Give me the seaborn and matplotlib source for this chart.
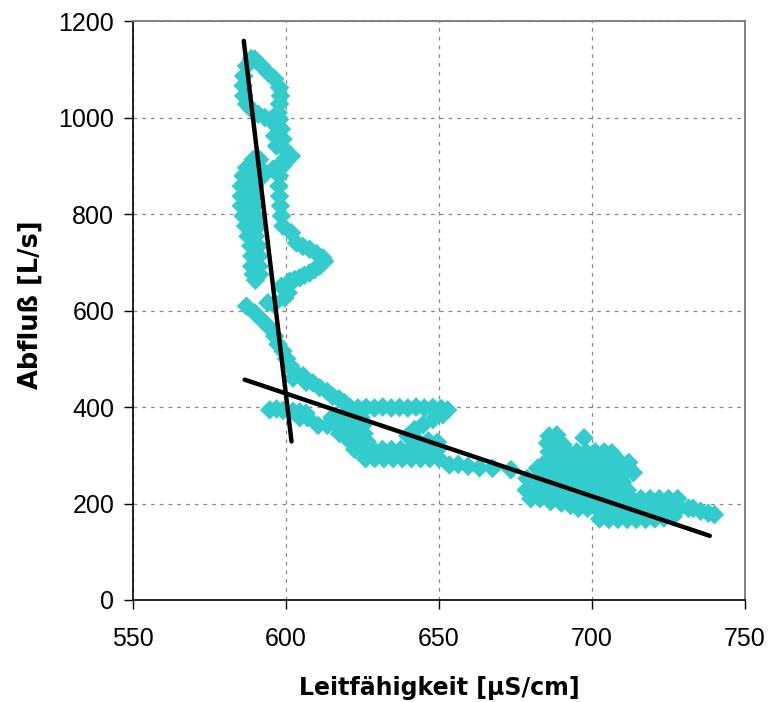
import matplotlib
matplotlib.use("Agg")
import matplotlib.pyplot as plt
import numpy as np
import pandas as pd
import seaborn as sns

# Leitfähigkeit [µS/cm] und Abfluß [L/s] einzelner Messzeitpunkte, abschnittsweise

# Scheitel: Schleife bei höchstem Abfluß
spitze_lf = [588.7, 587.1, 586.2, 586.0, 586.2, 587.1, 588.7, 590.9, 593.1, 595.2,
             589.8, 592.0, 594.1, 596.3, 597.9, 598.2, 597.9, 597.4]
spitze_q = [1122, 1107, 1086, 1066, 1045, 1028, 1017, 1007, 1000, 996,
            1121, 1107, 1093, 1080, 1062, 1045, 1028, 1010]

# Rechter Ast unterhalb des Scheitels
abstieg_lf = [597.9, 595.8, 598.5, 596.3, 599.0, 596.9, 599.6, 600.1, 601.8, 599.0,
              597.9, 597.7, 597.9, 598.2, 598.5, 599.0, 592.5, 595.8, 598.5]
abstieg_q = [996, 989, 976, 962, 955, 941, 934, 917, 920, 900,
             879, 858, 837, 817, 796, 775, 879, 893, 906]

# Linker Ast (zweiter Anstieg)
links_lf = [589.3, 591.4,
            587.1, 589.3, 591.4,
            586.0, 588.2, 590.3,
            585.4, 587.6, 589.8,
            585.4, 587.6, 589.8,
            585.4, 587.6, 589.8,
            586.0, 588.2, 590.3,
            586.8, 589.0, 591.0,
            587.6, 590.0,
            588.5, 591.0,
            588.8, 591.2,
            588.8, 591.2,
            589.3, 591.4,
            590.0]
links_q = [913, 913,
           896, 896, 896,
           879, 879, 879,
           858, 858, 858,
           837, 837, 837,
           817, 817, 817,
           796, 796, 796,
           775, 775, 775,
           754, 754,
           734, 734,
           713, 713,
           692, 692,
           675, 675,
           663]

# Schleife nach rechts (Zwischenmaximum der Leitfähigkeit)
schleife_lf = [601.8, 603.4, 605.5, 607.7, 610.0, 612.1, 612.6, 611.0, 609.4, 607.7,
               606.0, 604.5, 602.8, 601.2, 598.5, 600.7, 599.6, 594.1, 596.0]
schleife_q = [761, 740, 733, 727, 718, 709, 702, 692, 685, 678,
              673, 668, 664, 661, 650, 637, 626, 616, 613]

# Abfallender Ast bis ca. 400 L/s
abfall_lf = [587.1, 589.8, 592.5, 594.7, 596.3, 597.4, 599.0, 600.2, 601.5, 603.0,
             602.3, 605.6, 606.6, 608.8, 611.0, 613.5, 615.3, 617.3, 619.1]
abfall_q = [609, 595, 578, 564, 547, 530, 516, 500, 485, 472,
            460, 465, 451, 450, 440, 432, 422, 417, 409]

# Plateau bei ca. 400 L/s und Rückweg
plateau_lf = [620.8, 623.5, 626.2, 628.9, 631.6, 634.4, 637.1, 639.8, 642.5, 645.2,
              648.0, 650.7, 652.8,
              651.2, 648.0, 644.7, 642.0, 639.8, 643.0, 646.5, 649.5]
plateau_q = [400, 398, 399, 398, 400, 398, 399, 398, 400, 398,
             399, 397, 394,
             384, 374, 363, 353, 340, 330, 330, 327]

# Breites Band zwischen 600 und 650 µS/cm
band_lf = [594.7, 596.9, 599.0, 602.3, 604.5, 606.5,
           604.5, 607.0, 615.0, 618.0, 621.0, 624.5,
           610.5, 613.5, 616.5, 619.5, 622.5, 625.0,
           617.5, 620.5, 623.5, 625.5,
           621.0, 624.0, 626.5,
           622.5, 625.5, 628.5, 631.5, 634.5, 637.5, 640.5, 643.5, 646.5, 649.5,
           626.0, 629.0, 632.0, 635.0, 638.0, 641.0, 644.0, 647.0, 650.0]
band_q = [394, 396, 393, 391, 390, 387,
          378, 378, 378, 378, 378, 378,
          362, 362, 362, 362, 362, 362,
          345, 345, 345, 345,
          328, 328, 328,
          312, 312, 312, 312, 312, 312, 312, 312, 312, 312,
          293, 293, 293, 293, 293, 293, 293, 293, 293]

# Vereinzelte Werte beim Übergang zum Basisabfluß
einzel_lf = [653.4, 656.3, 659.5, 663.2, 667.5, 673.5, 682.2, 678.8]
einzel_q = [280, 281, 277, 274, 273, 270, 273, 252]

# Basisabfluß, oberer Teil
basis_oben_lf = [686.0, 688.5, 685.5, 688.0, 690.5, 697.4,
                 686, 689, 692, 695, 698, 701, 704, 706.5,
                 685, 688, 691, 694, 697, 700, 703, 706, 709, 712,
                 684, 687, 690, 693, 696, 699, 702, 705, 708, 711, 713.5,
                 683, 686, 689, 692, 695, 698, 701, 704, 707, 710]
basis_oben_q = [340, 342, 325, 325, 322, 336,
                307, 307, 307, 307, 307, 307, 307, 305,
                287, 287, 287, 287, 287, 287, 287, 287, 287, 285,
                266, 266, 266, 266, 266, 266, 266, 266, 266, 266, 264,
                246, 246, 246, 246, 246, 246, 246, 246, 246, 244]

# Basisabfluß, unterer Teil
basis_unten_lf = [678.5, 681.5, 684.5, 687.5, 690.5, 693.5, 696.5, 699.5, 702.5, 705.5,
                  708.5, 711.5,
                  680, 683, 686, 689, 692, 695, 698, 701, 704, 707, 710, 713, 716, 719,
                  722, 725, 728,
                  686.5, 690, 693,
                  695.5, 698.5, 701.5, 704.5, 707.5, 710.5, 713.5, 716.5, 719.5, 722.5,
                  725.5, 728.5, 731.5,
                  702.5, 705.5, 708.5, 711.5, 714.5, 717.5, 720.5, 723.5, 726.5,
                  733.0, 735.5, 738.0, 740.0]
basis_unten_q = [228, 228, 228, 228, 228, 228, 228, 228, 228, 228,
                 228, 228,
                 210, 210, 210, 210, 210, 210, 210, 210, 210, 210, 210, 210, 210, 210,
                 210, 210, 210,
                 204, 201, 196,
                 190, 190, 190, 190, 190, 190, 190, 190, 190, 190,
                 190, 190, 190,
                 168, 167, 167, 167, 167, 167, 168, 170, 173,
                 190, 184, 180, 177]

# Ausgleichsgeraden
gerade_steil_lf = [586.2, 601.8]
gerade_steil_q = [1159, 328.6]
gerade_flach_lf = [586.5, 738.5]
gerade_flach_q = [456.7, 133]

x_ticks = [550, 600, 650, 700, 750]
y_ticks = [0, 200, 400, 600, 800, 1000, 1200]

messung = pd.DataFrame({
    "Leitfähigkeit": spitze_lf + abstieg_lf + links_lf + schleife_lf + abfall_lf
                     + plateau_lf + band_lf + einzel_lf + basis_oben_lf + basis_unten_lf,
    "Abfluß": spitze_q + abstieg_q + links_q + schleife_q + abfall_q
              + plateau_q + band_q + einzel_q + basis_oben_q + basis_unten_q,
})

sns.set_style("ticks")
plt.rcParams["font.family"] = ["Liberation Sans", "DejaVu Sans"]

fig = plt.figure(figsize=(7.71, 7.02), dpi=100)
ax = fig.add_axes([0.1725, 0.1453, 0.7938, 0.8247])

sns.scatterplot(data=messung, x="Leitfähigkeit", y="Abfluß", ax=ax,
                marker="D", s=100, color="#33CCCC", edgecolor="none",
                linewidth=0, zorder=3)
sns.lineplot(x=gerade_steil_lf, y=gerade_steil_q, ax=ax, color="black",
             linewidth=3.2, sort=False, estimator=None, zorder=4)
sns.lineplot(x=gerade_flach_lf, y=gerade_flach_q, ax=ax, color="black",
             linewidth=3.2, sort=False, estimator=None, zorder=4)

ax.set_xlim(550, 750)
ax.set_ylim(0, 1200)
ax.set_xticks(x_ticks)
ax.set_yticks(y_ticks)
ax.set_axisbelow(True)
ax.grid(True, color="#888888", linestyle=(0, (3, 4)), linewidth=0.9)

for side in ("left", "bottom"):
    ax.spines[side].set_color("black")
    ax.spines[side].set_linewidth(1.2)
for side in ("top", "right"):
    ax.spines[side].set_visible(True)
    ax.spines[side].set_color("#808080")
    ax.spines[side].set_linewidth(1.4)

ax.tick_params(axis="both", direction="out", length=6.5, width=1.0,
               color="black", labelsize=18, labelcolor="black")
ax.tick_params(axis="y", pad=7)
ax.tick_params(axis="x", pad=13)

ax.set_xlabel("Leitfähigkeit [µS/cm]", fontsize=17, fontweight="bold",
              family=["DejaVu Sans"], color="black")
ax.set_ylabel("Abfluß [L/s]", fontsize=18.5, fontweight="bold",
              family=["DejaVu Sans"], color="black")
ax.xaxis.set_label_coords(0.5, -0.152)
ax.xaxis.label.set_va("center")
ax.yaxis.set_label_coords(-0.168, 0.51)
ax.yaxis.label.set_va("center")

fig.savefig("out.png", dpi=100)
